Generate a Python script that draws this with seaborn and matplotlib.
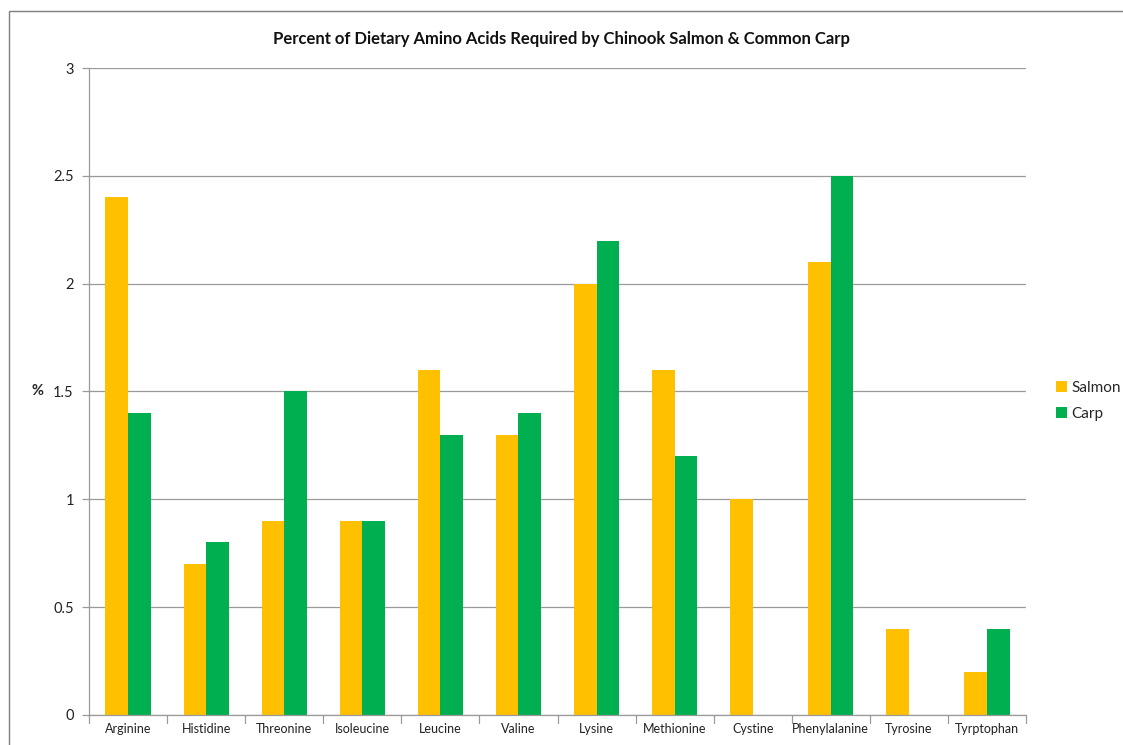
import numpy as np
import pandas as pd
import matplotlib
matplotlib.use("Agg")
import matplotlib.pyplot as plt
from matplotlib.patches import Rectangle
import seaborn as sns

amino_acids = ["Arginine", "Histidine", "Threonine", "Isoleucine", "Leucine", "Valine",
               "Lysine", "Methionine", "Cystine", "Phenylalanine", "Tyrosine", "Tyrptophan"]
salmon = [2.4, 0.7, 0.9, 0.9, 1.6, 1.3, 2.0, 1.6, 1.0, 2.1, 0.4, 0.2]
carp = [1.4, 0.8, 1.5, 0.9, 1.3, 1.4, 2.2, 1.2, np.nan, 2.5, np.nan, 0.4]
y_ticks = [0, 0.5, 1, 1.5, 2, 2.5, 3]

df = pd.DataFrame({
    "Amino acid": amino_acids * 2,
    "Percent": salmon + carp,
    "Species": ["Salmon"] * len(amino_acids) + ["Carp"] * len(amino_acids),
})

sns.set_theme(style="white")
plt.rcParams["font.family"] = ["Lato", "DejaVu Sans"]

fig = plt.figure(figsize=(11.23, 7.45), dpi=100)
ax = fig.add_axes([0.0793, 0.0403, 0.9136 - 0.0793, 0.9087 - 0.0403])

sns.barplot(data=df, x="Amino acid", y="Percent", hue="Species",
            palette={"Salmon": "#FFC000", "Carp": "#00B050"},
            saturation=1, width=0.58, gap=0, ax=ax, errorbar=None,
            linewidth=0, edgecolor="none")

ax.set_ylim(0, 3)
ax.set_xlim(-0.5, len(amino_acids) - 0.5)
ax.set_yticks(y_ticks)
ax.set_yticklabels(["0", "0.5", "1", "1.5", "2", "2.5", "3"], fontsize=10.5)
ax.yaxis.grid(True, color="#9a9a9a", linewidth=0.9)
ax.set_axisbelow(True)
ax.tick_params(axis="x", length=0, labelsize=9, pad=6, colors="#222222")
ax.tick_params(axis="y", left=True, length=5, width=0.9, color="#9a9a9a",
               labelsize=10.5, pad=6, colors="#222222")

# category separators below the x axis
for b in np.arange(-0.5, len(amino_acids), 1.0):
    ax.plot([b, b], [0, -0.035], color="#9a9a9a", linewidth=0.9, clip_on=False)

for side in ["top", "right"]:
    ax.spines[side].set_visible(False)
for side in ["left", "bottom"]:
    ax.spines[side].set_color("#9a9a9a")
    ax.spines[side].set_linewidth(0.9)

ax.set_xlabel("")
ax.set_ylabel("%", rotation=0, fontsize=10.5, fontweight="bold", va="center")
ax.yaxis.set_label_coords(-0.055, 0.5)

fig.text(0.5, 0.948, "Percent of Dietary Amino Acids Required by Chinook Salmon & Common Carp",
         ha="center", va="center", fontsize=12, fontweight="bold", color="#111111")

handles, labels = ax.get_legend_handles_labels()
ax.legend(handles, labels, loc="center left", bbox_to_anchor=(0.928, 0.462),
          bbox_transform=fig.transFigure, frameon=False, fontsize=11,
          handlelength=0.7, handleheight=0.7, handletextpad=0.3, labelspacing=0.8)

fig.patches.append(Rectangle((9 / 1123, -0.05), 1.1, 1 - 11 / 745 + 0.05,
                             transform=fig.transFigure, fill=False,
                             edgecolor="#7f7f7f", linewidth=1.0))

fig.savefig("out.png", dpi=100, facecolor="white")
